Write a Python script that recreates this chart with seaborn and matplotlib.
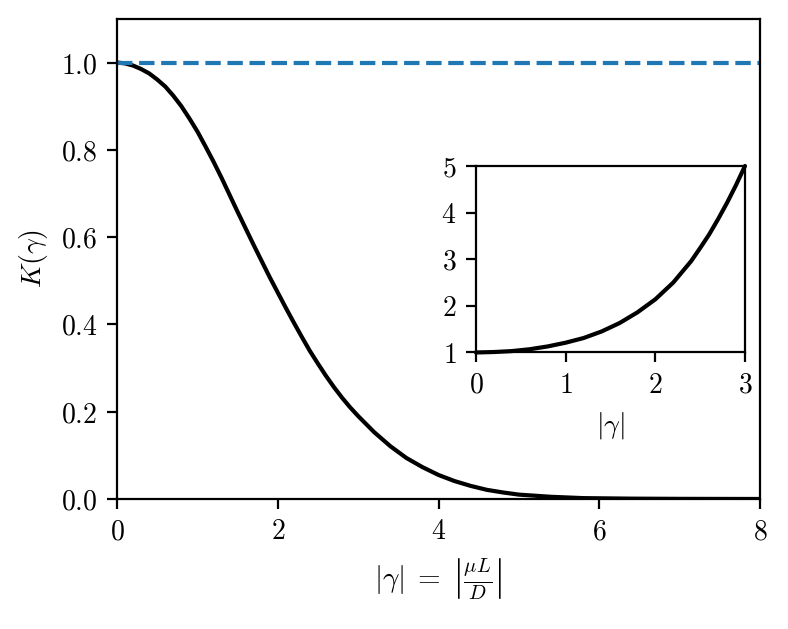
import numpy as np
import pandas as pd
import matplotlib
matplotlib.use("Agg")
import matplotlib.pyplot as plt
from matplotlib.ticker import FuncFormatter
import seaborn as sns

# values
gamma = [0.0, 0.1, 0.2, 0.3, 0.4, 0.5, 0.6, 0.7, 0.8, 0.9, 1.0, 1.1, 1.2,
         1.3, 1.4, 1.5, 1.6, 1.7, 1.8, 1.9, 2.0, 2.1, 2.2, 2.3, 2.4, 2.5,
         2.6, 2.7, 2.8, 2.9, 3.0, 3.2, 3.4, 3.6, 3.8, 4.0, 4.2, 4.4, 4.6,
         4.8, 5.0, 5.4, 5.8, 6.4, 7.0, 8.0]
K = [1.000, 0.998, 0.993, 0.985, 0.975, 0.961, 0.945, 0.924, 0.900, 0.872,
     0.842, 0.808, 0.773, 0.736, 0.697, 0.658, 0.620, 0.582, 0.545, 0.508,
     0.473, 0.438, 0.404, 0.371, 0.339, 0.310, 0.282, 0.256, 0.232, 0.210,
     0.190, 0.153, 0.121, 0.094, 0.073, 0.055, 0.041, 0.030, 0.021, 0.015,
     0.010, 0.005, 0.002, 0.0008, 0.0003, 0.0]

inset_gamma = [0.0, 0.2, 0.4, 0.6, 0.8, 1.0, 1.2, 1.4, 1.6, 1.8, 2.0, 2.2,
               2.4, 2.5, 2.6, 2.7, 2.8, 2.9, 3.0]
inset_val = [1.00, 1.01, 1.03, 1.07, 1.13, 1.21, 1.31, 1.45, 1.63, 1.86,
             2.14, 2.50, 2.96, 3.24, 3.53, 3.86, 4.21, 4.59, 5.00]

main_xticks = [0, 2, 4, 6, 8]
main_yticks = [0.0, 0.2, 0.4, 0.6, 0.8, 1.0]
inset_xticks = [0, 1, 2, 3]
inset_yticks = [1, 2, 3, 4, 5]

sns.set_style("ticks")
plt.rcParams["mathtext.fontset"] = "cm"
plt.rcParams["font.family"] = ["DejaVu Serif"]
plt.rcParams["font.size"] = 10
plt.rcParams["axes.linewidth"] = 0.8
plt.rcParams["xtick.major.width"] = 0.8
plt.rcParams["ytick.major.width"] = 0.8
plt.rcParams["xtick.major.size"] = 3.5
plt.rcParams["ytick.major.size"] = 3.5
plt.rcParams["xtick.color"] = "black"
plt.rcParams["ytick.color"] = "black"
plt.rcParams["text.color"] = "black"
plt.rcParams["axes.labelcolor"] = "black"
plt.rcParams["axes.edgecolor"] = "black"

df = pd.DataFrame({"gamma": gamma, "K": K})
df_in = pd.DataFrame({"gamma": inset_gamma, "val": inset_val})

fig = plt.figure(figsize=(3.94, 3.145), dpi=200)
ax = fig.add_axes([0.1485, 0.2067, 0.816, 0.7633])

sns.lineplot(data=df, x="gamma", y="K", color="black", lw=1.5, ax=ax)
ax.axhline(1.0, color="#1f77b4", ls="--", lw=1.5)

ax.set_xlim(0, 8)
ax.set_ylim(0, 1.1)
ax.set_xticks(main_xticks)
ax.set_yticks(main_yticks)
ax.xaxis.set_major_formatter(FuncFormatter(lambda v, _: f"${v:.0f}$"))
ax.yaxis.set_major_formatter(FuncFormatter(lambda v, _: f"${v:.1f}$"))
ax.tick_params(labelsize=10)
ax.set_xlabel(r"$|\gamma|\;=\;\left|\frac{\mu L}{D}\right|$", fontsize=10.5)
ax.set_ylabel(r"$K(\gamma)$", fontsize=10)

# inset
axin = fig.add_axes([0.604, 0.4396, 0.3414, 0.2965])
sns.lineplot(data=df_in, x="gamma", y="val", color="black", lw=1.5, ax=axin,
             zorder=2, clip_on=False)
axin.set_xlim(0, 3)
axin.set_ylim(1, 5)
axin.set_xticks(inset_xticks)
axin.set_yticks(inset_yticks)
axin.xaxis.set_major_formatter(FuncFormatter(lambda v, _: f"${v:.0f}$"))
axin.yaxis.set_major_formatter(FuncFormatter(lambda v, _: f"${v:.0f}$"))
axin.tick_params(labelsize=10)
axin.set_xlabel(r"$|\gamma|$", fontsize=10)
axin.set_ylabel("")

fig.savefig("out.png", dpi=200)
